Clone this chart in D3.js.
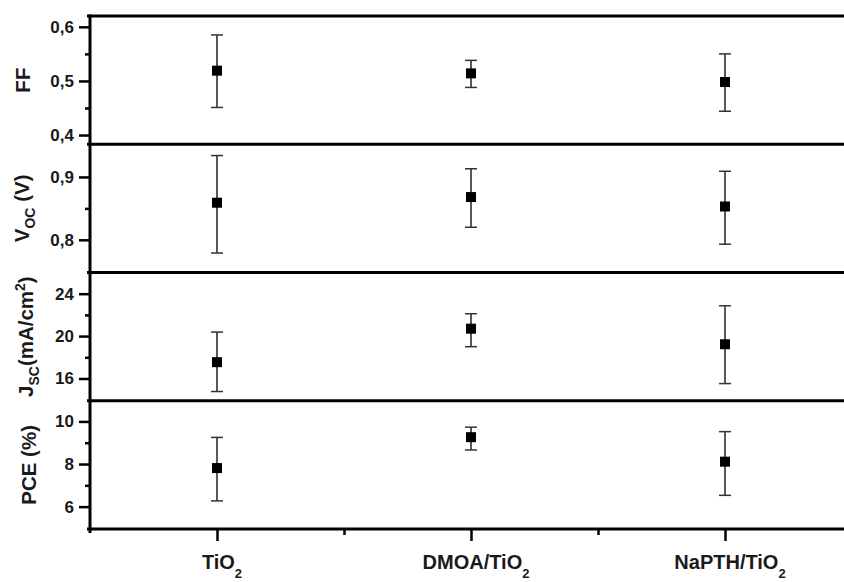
<!DOCTYPE html>
<html>
<head>
<meta charset="utf-8">
<script src="https://cdn.jsdelivr.net/npm/d3@7"></script>
<style>
  body { margin: 0; background: #fff; }
  text { font-family: 'Liberation Sans', Arial, sans-serif; font-weight: bold; fill: #1a1a1a; }
</style>
</head>
<body>
<script>
var categories = ['TiO2', 'DMOA/TiO2', 'NaPTH/TiO2'];

// mean, lower and upper end of the error bar for each sample
var ffMean = [0.519, 0.514, 0.498];
var ffLow = [0.451, 0.488, 0.444];
var ffHigh = [0.585, 0.538, 0.550];

var vocMean = [0.859, 0.868, 0.853];
var vocLow = [0.779, 0.820, 0.793];
var vocHigh = [0.934, 0.913, 0.909];

var jscMean = [17.54, 20.70, 19.23];
var jscLow = [14.77, 19.00, 15.52];
var jscHigh = [20.38, 22.11, 22.86];

var pceMean = [7.81, 9.26, 8.11];
var pceLow = [6.27, 8.66, 6.53];
var pceHigh = [9.25, 9.73, 9.52];

var ffTicks = [0.4, 0.5, 0.6];
var vocTicks = [0.8, 0.9];
var jscTicks = [16, 20, 24];
var pceTicks = [6, 8, 10];

var w = 844,
    h = 582;

var LEFT = 90,
    TOP = 16,
    PANEL_H = 128.25;

var comma = d3.formatLocale({ decimal: ',', thousands: '.', grouping: [3], currency: ['', ''] });

var panels = [
  { mean: ffMean, low: ffLow, high: ffHigh, ticks: ffTicks, minor: [0.45, 0.55],
    domain: [0.383, 0.62], fmt: comma.format('.1f'), title: [['FF']], tx: 30 },
  { mean: vocMean, low: vocLow, high: vocHigh, ticks: vocTicks, minor: [0.85],
    domain: [0.748, 0.952], fmt: comma.format('.1f'), title: [['V'], ['OC', 'sub'], [' (V)']], tx: 29 },
  { mean: jscMean, low: jscLow, high: jscHigh, ticks: jscTicks, minor: [18, 22],
    domain: [13.9, 26.0], fmt: d3.format('d'), title: [['J'], ['SC', 'sub'], ['(mA/cm'], ['2', 'sup'], [')']], tx: 33 },
  { mean: pceMean, low: pceLow, high: pceHigh, ticks: pceTicks, minor: [7, 9],
    domain: [4.95, 10.97], fmt: d3.format('d'), title: [['PCE (%)']], tx: 36 }
];

var svg = d3.select('body').append('svg')
  .attr('width', w)
  .attr('height', h);

var x = d3.scaleLinear()
  .domain([0.5, 3.5])
  .range([LEFT, LEFT + 3 * 254]);

// adds text pieces with sub/superscripts to a text node
function richText(sel, parts, size, small) {
  var shift = 0;
  parts.forEach(function(p) {
    var t = sel.append('tspan').text(p[0]);
    var target = 0;
    if (p[1] === 'sub') target = size * 0.3;
    if (p[1] === 'sup') target = -size * 0.4;
    t.attr('dy', target - shift);
    if (p[1]) t.style('font-size', small + 'px');
    shift = target;
  });
}

panels.forEach(function(p, i) {
  var top = TOP + i * PANEL_H;
  var bottom = top + PANEL_H;
  var y = d3.scaleLinear().domain(p.domain).range([bottom, top]);

  var g = svg.append('g');

  g.append('g')
    .attr('transform', 'translate(' + LEFT + ',0)')
    .call(d3.axisLeft(y).tickValues(p.minor).tickSize(5).tickFormat(''))
    .call(function(a) { a.select('.domain').remove(); })
    .selectAll('line').attr('stroke', '#000').attr('stroke-width', 2.5);

  var ax = g.append('g')
    .attr('transform', 'translate(' + LEFT + ',0)')
    .call(d3.axisLeft(y).tickValues(p.ticks).tickSize(11).tickPadding(5).tickFormat(p.fmt));
  ax.select('.domain').remove();
  ax.selectAll('line').attr('stroke', '#000').attr('stroke-width', 2.5);
  ax.selectAll('text')
    .style('font-size', '17px')
    .attr('fill', '#1a1a1a');

  // panel frame line
  g.append('line')
    .attr('x1', LEFT - 3).attr('x2', w)
    .attr('y1', top).attr('y2', top)
    .attr('stroke', '#000').attr('stroke-width', 3);

  var title = g.append('text')
    .attr('transform', 'translate(' + p.tx + ',' + (top + PANEL_H / 2) + ') rotate(-90)')
    .style('text-anchor', 'middle')
    .style('font-size', '20.5px');
  richText(title, p.title, 20.5, 14);

  var pts = g.append('g').selectAll('g')
      .data(p.mean)
    .enter().append('g');

  pts.append('line')
    .attr('x1', function(d, j) { return x(j + 1); })
    .attr('x2', function(d, j) { return x(j + 1); })
    .attr('y1', function(d, j) { return y(p.low[j]); })
    .attr('y2', function(d, j) { return y(p.high[j]); })
    .attr('stroke', '#222')
    .attr('stroke-width', 1.5);

  [p.low, p.high].forEach(function(arr) {
    pts.append('line')
      .attr('x1', function(d, j) { return x(j + 1) - 6; })
      .attr('x2', function(d, j) { return x(j + 1) + 6; })
      .attr('y1', function(d, j) { return y(arr[j]); })
      .attr('y2', function(d, j) { return y(arr[j]); })
      .attr('stroke', '#333')
      .attr('stroke-width', 1.5);
  });

  pts.append('rect')
    .attr('x', function(d, j) { return x(j + 1) - 5; })
    .attr('y', function(d) { return y(d) - 5; })
    .attr('width', 10)
    .attr('height', 10)
    .attr('fill', '#000');
});

var axisBottom = TOP + 4 * PANEL_H;

svg.append('line')
  .attr('x1', LEFT - 3).attr('x2', w)
  .attr('y1', axisBottom).attr('y2', axisBottom)
  .attr('stroke', '#000').attr('stroke-width', 3);

svg.append('line')
  .attr('x1', LEFT).attr('x2', LEFT)
  .attr('y1', TOP - 1.5).attr('y2', axisBottom + 4)
  .attr('stroke', '#000').attr('stroke-width', 3);

var xa = svg.append('g')
  .attr('transform', 'translate(0,' + axisBottom + ')')
  .call(d3.axisBottom(x).tickValues([1, 2, 3]).tickSize(12).tickFormat(''));
xa.select('.domain').remove();
xa.selectAll('line').attr('stroke', '#000').attr('stroke-width', 2.5);

var xm = svg.append('g')
  .attr('transform', 'translate(0,' + axisBottom + ')')
  .call(d3.axisBottom(x).tickValues([1.5, 2.5]).tickSize(6).tickFormat(''));
xm.select('.domain').remove();
xm.selectAll('line').attr('stroke', '#000').attr('stroke-width', 2.5);

categories.forEach(function(c, j) {
  var t = svg.append('text')
    .attr('x', x(j + 1) + 5)
    .attr('y', 569)
    .style('text-anchor', 'middle')
    .style('font-size', '20px');
  t.append('tspan').text(c.slice(0, -1));
  t.append('tspan').text('2').attr('dy', 9).style('font-size', '13px');
});
</script>
</body>
</html>
